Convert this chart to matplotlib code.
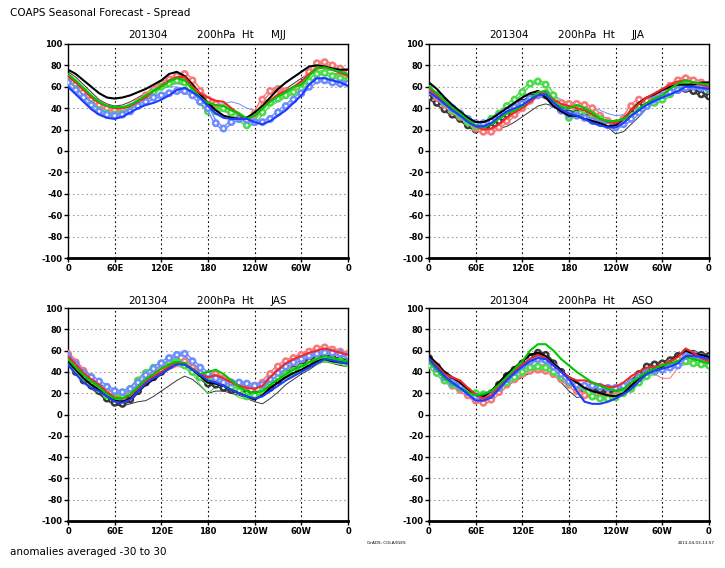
import numpy as np
import matplotlib
matplotlib.use("Agg")
import matplotlib.pyplot as plt
import matplotlib.patheffects as pe

# longitudes 0..360 every 10 degrees
lon = np.arange(0, 361, 10)

# ---- MJJ ----
mjj_black_thick = [76, 72, 66, 60, 54, 50, 49, 50, 52, 55, 58, 62, 66, 72, 74, 70, 62, 53, 45, 38, 33, 31, 30, 31, 36, 42, 50, 58, 64, 69, 74, 79, 80, 79, 77, 76, 76]
mjj_black_thin = [74, 69, 62, 55, 48, 44, 42, 43, 46, 50, 54, 57, 60, 62, 63, 62, 57, 50, 43, 37, 33, 31, 30, 31, 35, 40, 46, 52, 58, 63, 68, 72, 73, 72, 72, 72, 74]
mjj_red_thick = [70, 64, 57, 50, 45, 42, 40, 40, 42, 46, 50, 56, 61, 66, 69, 69, 60, 54, 50, 47, 46, 40, 34, 30, 33, 40, 47, 53, 56, 60, 65, 72, 77, 78, 76, 73, 70]
mjj_red_circ = [68, 62, 55, 48, 43, 40, 38, 38, 41, 46, 52, 58, 63, 67, 70, 72, 66, 56, 48, 44, 40, 35, 30, 27, 35, 48, 56, 58, 56, 56, 62, 74, 82, 83, 80, 77, 74]
mjj_red_thin = [66, 60, 53, 46, 41, 38, 37, 38, 40, 44, 49, 54, 59, 64, 67, 68, 62, 53, 45, 40, 37, 34, 30, 28, 30, 37, 45, 50, 54, 58, 62, 68, 72, 73, 72, 71, 68]
mjj_green_thick = [72, 66, 59, 52, 46, 42, 41, 41, 43, 47, 52, 56, 60, 65, 68, 66, 58, 50, 45, 43, 42, 38, 35, 30, 33, 40, 46, 51, 55, 60, 62, 70, 78, 78, 76, 74, 72]
mjj_green_circ = [65, 58, 50, 44, 38, 35, 34, 35, 38, 43, 49, 55, 60, 63, 66, 64, 55, 46, 37, 37, 40, 36, 30, 24, 27, 36, 45, 49, 52, 55, 58, 65, 72, 73, 70, 68, 66]
mjj_green_thin = [70, 64, 56, 49, 43, 39, 38, 39, 42, 46, 51, 56, 60, 64, 66, 63, 56, 48, 42, 40, 42, 40, 36, 31, 32, 38, 44, 50, 54, 58, 61, 67, 74, 76, 75, 74, 71]
mjj_blue_thick = [60, 53, 46, 39, 34, 31, 30, 32, 36, 40, 43, 45, 48, 52, 57, 59, 55, 50, 42, 35, 31, 30, 30, 30, 27, 25, 28, 33, 38, 45, 52, 62, 68, 68, 66, 64, 61]
mjj_blue_circ = [64, 57, 50, 43, 37, 34, 33, 34, 37, 42, 46, 50, 52, 54, 56, 56, 52, 46, 40, 26, 21, 27, 30, 29, 27, 27, 30, 36, 42, 48, 54, 60, 66, 66, 64, 63, 63]
mjj_blue_thin = [62, 56, 50, 45, 41, 39, 38, 40, 44, 48, 52, 55, 58, 60, 60, 58, 53, 48, 45, 44, 44, 46, 44, 40, 38, 38, 42, 46, 50, 54, 58, 62, 66, 67, 66, 65, 64]

# ---- JJA ----
jja_black_thick = [64, 58, 50, 43, 37, 31, 27, 27, 30, 35, 40, 45, 50, 54, 56, 50, 42, 37, 33, 33, 30, 28, 26, 23, 24, 30, 38, 45, 50, 53, 57, 60, 62, 62, 62, 64, 64]
jja_black_thin = [55, 48, 41, 35, 30, 24, 19, 18, 19, 21, 23, 27, 32, 37, 42, 44, 42, 40, 38, 35, 33, 30, 27, 22, 16, 18, 25, 32, 40, 45, 50, 54, 58, 59, 58, 55, 52]
jja_black_circ = [50, 45, 39, 34, 30, 24, 20, 19, 22, 28, 34, 40, 45, 50, 53, 52, 44, 38, 35, 35, 34, 30, 27, 25, 24, 28, 35, 42, 47, 50, 52, 55, 57, 58, 56, 53, 51]
jja_red_thick = [58, 52, 45, 39, 34, 28, 23, 20, 21, 25, 31, 36, 40, 46, 52, 55, 48, 44, 42, 40, 38, 34, 30, 27, 26, 30, 38, 44, 50, 54, 58, 62, 65, 66, 64, 62, 60]
jja_red_circ = [56, 50, 43, 37, 32, 27, 21, 18, 18, 22, 28, 34, 40, 47, 53, 54, 47, 45, 44, 44, 43, 40, 33, 28, 26, 30, 42, 48, 47, 50, 55, 61, 66, 68, 66, 64, 62]
jja_red_thin = [54, 48, 41, 36, 31, 26, 21, 19, 20, 24, 30, 35, 40, 46, 50, 50, 45, 42, 40, 38, 36, 33, 30, 28, 27, 27, 30, 40, 48, 50, 55, 60, 63, 65, 64, 62, 60]
jja_green_thick = [60, 54, 47, 40, 35, 29, 24, 22, 25, 30, 35, 38, 42, 48, 55, 56, 46, 41, 40, 43, 40, 36, 30, 28, 28, 30, 33, 39, 45, 49, 52, 58, 63, 66, 64, 63, 62]
jja_green_circ = [58, 52, 45, 38, 33, 27, 23, 25, 30, 35, 42, 48, 55, 63, 65, 62, 52, 40, 31, 34, 38, 34, 30, 26, 24, 28, 33, 38, 42, 45, 48, 53, 58, 61, 62, 60, 57]
jja_green_thin = [56, 50, 43, 37, 32, 26, 22, 21, 24, 30, 36, 41, 46, 51, 54, 53, 45, 40, 37, 39, 38, 35, 31, 28, 27, 29, 34, 40, 46, 50, 54, 58, 62, 63, 62, 60, 58]
jja_blue_thick = [55, 50, 44, 38, 33, 27, 23, 23, 26, 32, 37, 40, 43, 48, 52, 53, 45, 39, 35, 33, 30, 26, 24, 22, 22, 26, 33, 38, 43, 47, 50, 53, 56, 60, 60, 59, 58]
jja_blue_circ = [57, 52, 46, 40, 35, 30, 26, 26, 28, 33, 38, 41, 44, 49, 52, 53, 44, 38, 34, 33, 31, 28, 26, 24, 22, 25, 30, 36, 42, 48, 52, 55, 57, 59, 60, 59, 58]
jja_blue_thin = [60, 54, 48, 42, 36, 30, 25, 25, 28, 34, 40, 44, 47, 52, 55, 56, 52, 48, 45, 44, 43, 41, 38, 35, 33, 34, 40, 45, 50, 54, 57, 62, 67, 70, 68, 65, 62]

# ---- JAS ----
jas_black_thick = [50, 42, 34, 28, 23, 17, 13, 12, 15, 22, 28, 33, 38, 44, 48, 47, 42, 36, 30, 29, 27, 23, 20, 17, 14, 18, 25, 30, 35, 39, 42, 46, 50, 52, 50, 49, 48]
jas_black_thin = [47, 38, 30, 24, 19, 13, 9, 8, 10, 12, 13, 17, 22, 27, 32, 36, 33, 27, 20, 22, 22, 20, 18, 15, 12, 10, 15, 21, 28, 33, 38, 42, 47, 50, 48, 46, 45]
jas_black_circ = [48, 40, 32, 27, 22, 15, 11, 10, 14, 22, 30, 35, 40, 46, 50, 48, 42, 35, 29, 28, 25, 23, 22, 20, 19, 21, 25, 32, 38, 42, 45, 50, 53, 55, 53, 51, 50]
jas_red_thick = [55, 47, 39, 33, 28, 21, 16, 15, 18, 25, 31, 36, 40, 45, 48, 48, 43, 38, 35, 37, 34, 30, 27, 25, 24, 27, 35, 42, 48, 52, 55, 58, 60, 62, 60, 58, 56]
jas_red_circ = [57, 49, 41, 35, 30, 23, 18, 17, 20, 27, 33, 38, 42, 47, 50, 50, 44, 39, 36, 38, 34, 30, 27, 27, 27, 30, 38, 45, 50, 53, 56, 59, 62, 63, 61, 59, 57]
jas_red_thin = [52, 44, 36, 30, 25, 19, 14, 14, 17, 23, 29, 34, 38, 42, 45, 44, 40, 35, 32, 33, 30, 27, 24, 22, 21, 24, 30, 37, 43, 47, 50, 53, 56, 58, 57, 55, 54]
jas_green_thick = [52, 44, 37, 31, 26, 19, 15, 15, 19, 26, 33, 38, 43, 47, 50, 48, 42, 38, 40, 42, 38, 32, 26, 22, 20, 22, 28, 33, 38, 42, 45, 49, 52, 55, 53, 51, 50]
jas_green_circ = [50, 42, 35, 29, 24, 18, 16, 18, 24, 32, 39, 44, 48, 50, 50, 46, 40, 35, 32, 31, 30, 26, 22, 17, 18, 22, 30, 35, 38, 41, 44, 47, 50, 52, 51, 50, 48]
jas_green_thin = [49, 41, 33, 27, 22, 16, 14, 15, 20, 27, 33, 38, 42, 45, 46, 44, 38, 28, 20, 26, 25, 20, 16, 14, 15, 19, 25, 30, 34, 37, 40, 44, 48, 50, 49, 48, 47]
jas_blue_thick = [47, 38, 30, 25, 22, 17, 12, 11, 14, 22, 29, 34, 38, 43, 47, 47, 42, 37, 32, 30, 27, 23, 20, 17, 15, 17, 22, 27, 32, 36, 40, 44, 48, 52, 51, 49, 48]
jas_blue_circ = [55, 47, 39, 35, 31, 26, 22, 21, 24, 30, 37, 43, 48, 53, 56, 57, 50, 44, 38, 34, 30, 30, 30, 29, 27, 28, 33, 39, 45, 49, 52, 55, 57, 58, 58, 57, 55]
jas_blue_thin = [50, 42, 34, 29, 25, 19, 15, 15, 19, 27, 34, 39, 43, 47, 50, 49, 43, 37, 30, 28, 26, 24, 22, 20, 18, 20, 26, 33, 40, 45, 48, 51, 54, 56, 55, 53, 52]

# ---- ASO ----
aso_black_thick = [55, 48, 40, 35, 30, 24, 18, 17, 22, 30, 38, 44, 50, 56, 58, 55, 48, 41, 35, 30, 25, 22, 20, 18, 17, 20, 27, 34, 40, 43, 45, 50, 55, 60, 57, 56, 54]
aso_black_thin = [52, 43, 35, 28, 23, 17, 12, 13, 17, 22, 27, 31, 35, 39, 42, 41, 38, 30, 22, 16, 17, 18, 18, 18, 18, 22, 26, 33, 40, 43, 46, 50, 55, 55, 53, 51, 50]
aso_black_circ = [53, 45, 37, 31, 26, 20, 15, 15, 20, 28, 36, 42, 48, 54, 58, 56, 48, 40, 32, 26, 22, 22, 23, 21, 20, 24, 30, 38, 45, 47, 48, 51, 55, 58, 57, 56, 55]
aso_red_thick = [52, 46, 38, 35, 32, 25, 19, 15, 18, 26, 34, 41, 47, 52, 56, 53, 46, 40, 35, 32, 32, 30, 28, 26, 26, 30, 36, 40, 44, 45, 46, 50, 54, 62, 58, 53, 50]
aso_red_circ = [48, 40, 32, 27, 23, 18, 13, 11, 14, 21, 28, 33, 38, 41, 42, 41, 38, 33, 28, 22, 18, 17, 17, 17, 18, 22, 26, 32, 38, 42, 45, 48, 52, 58, 56, 53, 50]
aso_red_thin = [50, 42, 34, 28, 24, 19, 15, 15, 19, 26, 33, 37, 40, 45, 48, 46, 40, 36, 32, 30, 28, 25, 22, 22, 22, 27, 34, 37, 40, 38, 34, 34, 44, 50, 52, 50, 48]
aso_green_thick = [50, 42, 34, 29, 25, 21, 18, 19, 22, 28, 35, 43, 50, 60, 66, 66, 60, 52, 46, 40, 35, 30, 27, 24, 22, 24, 30, 35, 40, 43, 46, 48, 50, 54, 52, 50, 48]
aso_green_circ = [46, 39, 32, 28, 25, 22, 20, 19, 20, 25, 30, 35, 40, 44, 45, 44, 40, 35, 30, 27, 25, 17, 15, 15, 16, 20, 24, 30, 36, 40, 44, 46, 48, 50, 48, 47, 46]
aso_green_thin = [45, 38, 31, 26, 22, 17, 14, 15, 20, 28, 36, 40, 44, 48, 50, 48, 42, 37, 32, 27, 22, 20, 18, 17, 17, 21, 27, 33, 38, 40, 42, 44, 46, 48, 47, 46, 46]
aso_blue_thick = [52, 44, 36, 30, 25, 19, 13, 13, 16, 24, 32, 39, 45, 50, 53, 52, 46, 40, 33, 22, 12, 10, 10, 12, 15, 19, 24, 31, 38, 41, 43, 45, 48, 55, 55, 54, 52]
aso_blue_circ = [50, 43, 35, 30, 26, 21, 17, 17, 18, 25, 33, 40, 46, 50, 52, 51, 45, 38, 31, 28, 27, 27, 26, 25, 25, 27, 30, 35, 40, 41, 42, 44, 46, 55, 56, 54, 52]
aso_blue_thin = [50, 42, 34, 28, 24, 19, 15, 16, 20, 28, 36, 42, 48, 51, 53, 51, 44, 37, 30, 28, 26, 25, 24, 25, 26, 28, 30, 35, 40, 41, 42, 44, 45, 47, 48, 47, 46]

# season -> {colour: (thick, circles, thin)}
panels = [
    ("MJJ", {"black": (mjj_black_thick, None, mjj_black_thin),
             "red": (mjj_red_thick, mjj_red_circ, mjj_red_thin),
             "green": (mjj_green_thick, mjj_green_circ, mjj_green_thin),
             "blue": (mjj_blue_thick, mjj_blue_circ, mjj_blue_thin)}),
    ("JJA", {"black": (jja_black_thick, jja_black_circ, jja_black_thin),
             "red": (jja_red_thick, jja_red_circ, jja_red_thin),
             "green": (jja_green_thick, jja_green_circ, jja_green_thin),
             "blue": (jja_blue_thick, jja_blue_circ, jja_blue_thin)}),
    ("JAS", {"black": (jas_black_thick, jas_black_circ, jas_black_thin),
             "red": (jas_red_thick, jas_red_circ, jas_red_thin),
             "green": (jas_green_thick, jas_green_circ, jas_green_thin),
             "blue": (jas_blue_thick, jas_blue_circ, jas_blue_thin)}),
    ("ASO", {"black": (aso_black_thick, aso_black_circ, aso_black_thin),
             "red": (aso_red_thick, aso_red_circ, aso_red_thin),
             "green": (aso_green_thick, aso_green_circ, aso_green_thin),
             "blue": (aso_blue_thick, aso_blue_circ, aso_blue_thin)}),
]

xticks = [0, 60, 120, 180, 240, 300, 360]
xlabels = ["0", "60E", "120E", "180", "120W", "60W", "0"]
yticks = list(range(-100, 101, 20))

# (thick colour, light colour)
colors = {
    "black": ("#000000", "#383838"),
    "red": ("#f02828", "#f87878"),
    "green": ("#00c800", "#48dc48"),
    "blue": ("#1e3cff", "#6e8cff"),
}

W, H = 725, 568
fig = plt.figure(figsize=(W / 100, H / 100), dpi=100)

# axes boxes in pixels: left, top, right, bottom
boxes = [(68, 44, 348, 258), (429, 44, 709, 258), (68, 308, 348, 521), (429, 308, 709, 521)]
title_y = [35, 35, 301, 301]


def px(x, y):
    return x / W, 1 - y / H


for i, (season, members) in enumerate(panels):
    l, t, r, b = boxes[i]
    ax = fig.add_axes([l / W, 1 - b / H, (r - l) / W, (b - t) / H])
    ax.set_xlim(0, 360)
    ax.set_ylim(-100, 100)

    for y in yticks[1:-1]:
        ax.axhline(y, color="#a0a0a0", lw=0.8, ls=(0, (1.5, 2.5)), zorder=0)
    for x in xticks[1:-1]:
        ax.axvline(x, color="black", lw=0.8, ls=(0, (1.5, 2.5)), zorder=0)

    for name in ["black", "red", "green", "blue"]:
        thick, circ, thin = members[name]
        dark, light = colors[name]
        ax.plot(lon, thin, color=light, lw=0.7, zorder=2)
        if circ is not None:
            # chain of open circles -> hollow band plus ring markers
            ax.plot(lon, circ, color="white", lw=0.8, marker="o", ms=2.8, mfc="white",
                    mec=light, mew=0.8, zorder=3,
                    path_effects=[pe.Stroke(linewidth=2.9, foreground=light), pe.Normal()])
        ax.plot(lon, thick, color=dark, lw=1.5, zorder=4)

    ax.set_xticks(xticks)
    ax.set_xticklabels(xlabels)
    ax.set_yticks(yticks)
    ax.set_yticklabels([str(v) for v in yticks])
    ax.tick_params(axis="both", which="major", direction="out", length=3, width=1,
                   labelsize=6, pad=1)
    for lab in ax.get_xticklabels() + ax.get_yticklabels():
        lab.set_fontweight("bold")
    for sp in ax.spines.values():
        sp.set_linewidth(1.0)
    ax.spines["bottom"].set_linewidth(2.0)

    tx = l + 60
    fig.text(*px(tx, title_y[i]), "201304", fontsize=7.5, va="center", ha="left")
    fig.text(*px(tx + 69, title_y[i]), "200hPa  Ht", fontsize=7.5, va="center", ha="left")
    fig.text(*px(tx + 143, title_y[i]), season, fontsize=7.5, va="center", ha="left")

fig.text(*px(10, 13), "COAPS Seasonal Forecast - Spread", fontsize=7.5, va="center", ha="left")
fig.text(*px(10, 552), "anomalies averaged -30 to 30", fontsize=7.5, va="center", ha="left")
fig.text(*px(367, 543), "GrADS: COLA/IGES", fontsize=3, va="center", ha="left")
fig.text(*px(715, 543), "2013-04-03-13:57", fontsize=3, va="center", ha="right")

fig.savefig("out.png", dpi=100)
